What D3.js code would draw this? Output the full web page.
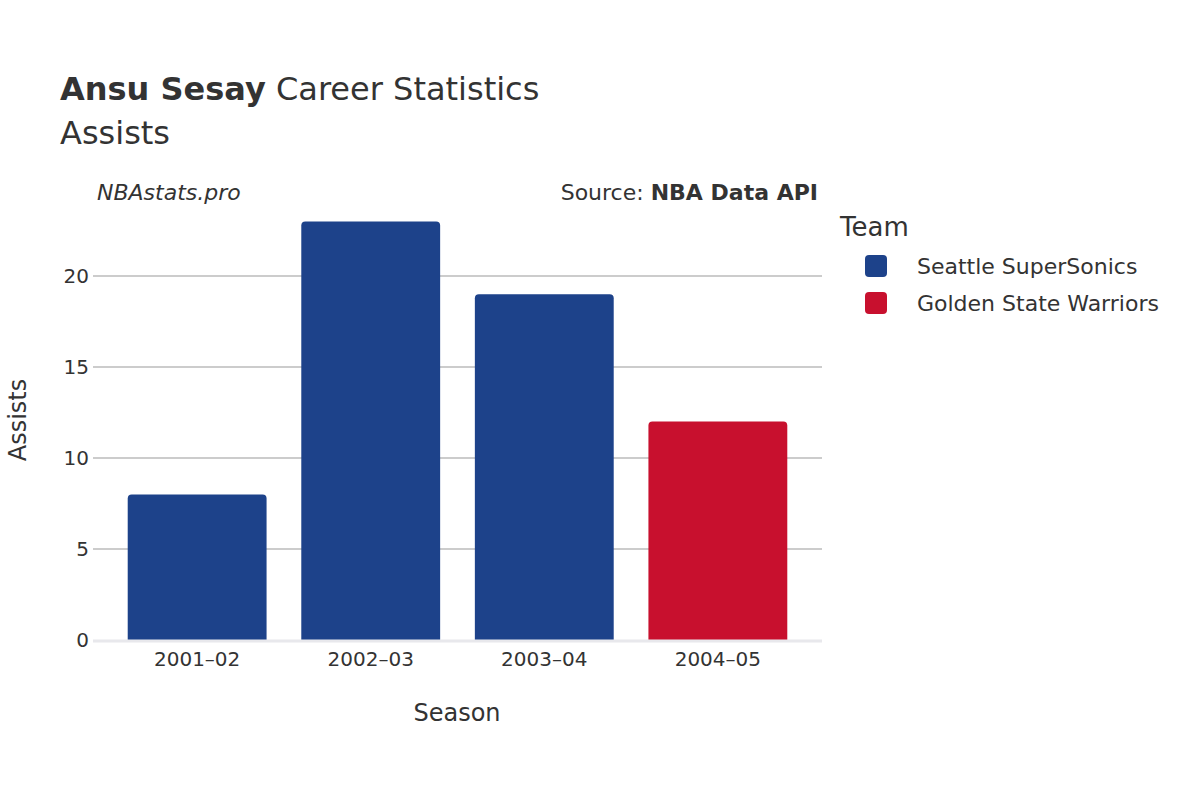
<!DOCTYPE html><html><head><meta charset="utf-8">
<script src="https://cdn.jsdelivr.net/npm/d3@7"></script>
<style>body{margin:0;background:#fff}text{font-family:"DejaVu Sans",sans-serif;fill:#333}</style></head><body>
<svg id="c" width="1200" height="800"></svg>
<script>
const seasons=["2001–02","2002–03","2003–04","2004–05"];
const assists=[8,23,19,12];
const teams=["Seattle SuperSonics","Seattle SuperSonics","Seattle SuperSonics","Golden State Warriors"];
const legendTeams=["Seattle SuperSonics","Golden State Warriors"];
const teamColors=["#1d428a","#c8102e"];
const yTicks=[0,5,10,15,20];

const svg=d3.select("#c");
const L=93,R=822,T=185,B=640;
const x=d3.scaleBand().domain(seasons).range([L,R]).padding(0.2);
const y=d3.scaleLinear().domain([0,25]).range([B,T]);
const color=d3.scaleOrdinal().domain(legendTeams).range(teamColors);

svg.append("g").selectAll("line").data(yTicks.filter(d=>d>0)).join("line")
 .attr("x1",L).attr("x2",R).attr("y1",d=>y(d)).attr("y2",d=>y(d)).attr("stroke","#999").attr("stroke-width",1);
svg.append("g").selectAll("text").data(yTicks).join("text")
 .attr("x",L-4).attr("y",d=>y(d)).attr("dy","0.35em").attr("text-anchor","end").attr("font-size",20).text(d=>d);

const r=4;
svg.append("g").selectAll("path").data(seasons).join("path")
 .attr("fill",(d,i)=>color(teams[i]))
 .attr("d",(d,i)=>{const x0=x(d),w=x.bandwidth(),y0=y(assists[i]),yb=y(0);
  return `M${x0},${yb}V${y0+r}Q${x0},${y0} ${x0+r},${y0}H${x0+w-r}Q${x0+w},${y0} ${x0+w},${y0+r}V${yb}Z`;});
svg.append("line").attr("x1",L).attr("x2",R).attr("y1",B+1).attr("y2",B+1).attr("stroke","#e8e8ec").attr("stroke-width",3);

svg.append("g").selectAll("text").data(seasons).join("text")
 .attr("x",d=>x(d)+x.bandwidth()/2).attr("y",666).attr("text-anchor","middle").attr("font-size",20).text(d=>d);

svg.append("text").attr("x",457).attr("y",721).attr("text-anchor","middle").attr("font-size",24).text("Season");
svg.append("text").attr("transform","translate(26,420) rotate(-90)").attr("text-anchor","middle").attr("font-size",24).text("Assists");

const t=svg.append("text").attr("x",60).attr("y",100).attr("font-size",32);
t.append("tspan").attr("font-weight","bold").text("Ansu Sesay");
t.append("tspan").text(" Career Statistics");
svg.append("text").attr("x",60).attr("y",144).attr("font-size",32).text("Assists");
svg.append("text").attr("x",97).attr("y",200).attr("font-size",22).attr("font-style","italic").text("NBAstats.pro");
const s=svg.append("text").attr("x",818).attr("y",200).attr("font-size",22).attr("text-anchor","end");
s.append("tspan").text("Source: ");s.append("tspan").attr("font-weight","bold").text("NBA Data API");

svg.append("text").attr("x",840).attr("y",236).attr("font-size",26).text("Team");
const lg=svg.append("g").selectAll("g").data(legendTeams).join("g").attr("transform",(d,i)=>`translate(0,${266+i*37})`);
lg.append("rect").attr("x",865).attr("y",-11).attr("width",22).attr("height",22).attr("rx",4).attr("fill",d=>color(d));
lg.append("text").attr("x",917).attr("y",0).attr("dy","0.35em").attr("font-size",22).text(d=>d);
</script></body></html>
